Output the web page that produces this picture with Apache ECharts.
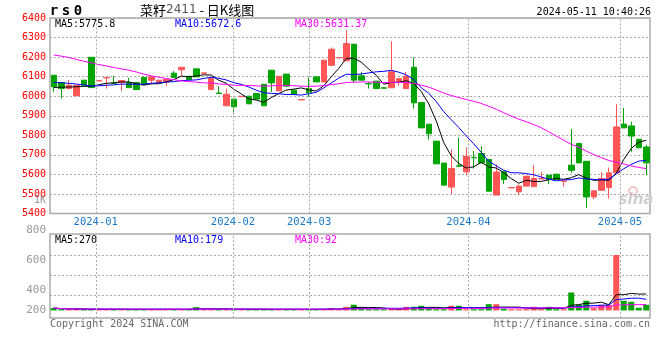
<!DOCTYPE html>
<html><head><meta charset="utf-8">
<script src="https://cdn.jsdelivr.net/npm/echarts@6/dist/echarts.min.js"></script>
<style>html,body{margin:0;padding:0;background:#fff}#c{width:660px;height:360px}</style>
</head><body><div id="c"></div>
<script>
// ---- data (rs0 / 菜籽2411 daily K) ----
const opens = [6107,6070,6039,6002,6082,6199,6078,6094,6067,6070,
  6070,6070,6097,6082,6070,6073,6118,6135,6102,6140,
  6117,6034,6016,5951,5985,5998,6000,6014,6061,6133,
  6027,6113,6031,5981,6039,6099,6073,6158,6196,6181,
  6266,6104,6065,6077,6043,6043,6077,6039,6148,5968,
  5857,5770,5658,5535,5644,5613,5687,5707,5676,5494,
  5613,5531,5511,5540,5537,5577,5596,5601,5565,5647,
  5758,5667,5485,5519,5533,5608,5857,5848,5780,5740];
const closes = [6048,6039,6056,6055,6056,6044,6080,6096,6065,6080,
  6044,6034,6060,6099,6082,6087,6096,6148,6085,6099,
  6119,6090,6014,6010,5946,6000,5961,5985,5951,6068,
  6102,6051,6009,5983,6017,6073,6184,6240,6198,6269,
  6082,6082,6063,6039,6041,6125,6090,6102,5966,5838,
  5808,5654,5545,5630,5642,5693,5685,5659,5514,5612,
  5574,5533,5540,5591,5579,5579,5574,5574,5567,5621,
  5659,5485,5516,5579,5608,5843,5838,5796,5736,5659];
const lows = [6022,5988,6039,6002,6056,6044,6078,6039,6065,6027,
  6044,6034,6060,6060,6070,6053,6096,6104,6085,6099,
  6117,6034,6014,5951,5908,5998,5961,5985,5951,6022,
  6027,6051,6009,5981,5997,6073,6073,6158,6196,6181,
  6070,6082,6039,6039,6041,6043,6053,6039,5937,5838,
  5779,5654,5545,5499,5642,5596,5630,5659,5514,5494,
  5550,5531,5494,5540,5537,5577,5550,5574,5537,5608,
  5659,5429,5473,5519,5477,5608,5838,5716,5736,5596];
const highs = [6107,6073,6082,6055,6082,6199,6080,6096,6104,6080,
  6094,6070,6097,6099,6082,6087,6128,6148,6102,6140,
  6119,6090,6051,6039,5985,6000,6000,6014,6061,6133,
  6102,6113,6031,5983,6096,6099,6184,6249,6198,6337,
  6266,6124,6073,6077,6043,6281,6090,6124,6198,5968,
  5857,5770,5658,5729,5789,5738,5719,5744,5676,5651,
  5613,5533,5548,5591,5647,5613,5596,5601,5567,5831,
  5758,5667,5516,5613,5635,5959,5940,5869,5780,5750];
const volumes = [40,20,20,20,20,20,20,20,20,20,
  20,20,20,20,20,20,20,20,20,55,
  20,20,20,20,20,20,20,20,20,20,
  20,20,20,20,20,20,20,38,20,60,
  94,45,20,20,20,20,20,60,60,77,
  38,20,20,77,77,20,20,20,104,104,
  28,20,20,20,60,20,60,20,20,297,
  94,160,38,94,94,918,160,143,44,94];
// moving-average values before enough history exists
const ma5Head = [6045,6046,6047,6048];
const ma10Head = [6070,6069,6066,6062,6058,6052,6053,6056,6058];
const ma30Head = [6211,6205,6198,6188,6179,6170,6162,6155,6147,6140,
  6133,6124,6113,6104,6097,6090,6085,6078,6075,6072,
  6068,6068,6063,6060,6056,6055,6055,6053,6051];
const monthPos = [5.6, 23.9, 34.05, 55.3, 75.5];
const monthLabels = ['2024-01','2024-02','2024-03','2024-04','2024-05'];
const priceMin = 5400, priceMax = 6400, priceStep = 100;
// volume-panel label slots (5px each, bottom to top)
const volTickLabels = ['200','','','','400','','','','','','600','','','','','','800'];
const volGridLines = [0, 1, 2];
const legendMain = ['MA5:5775.8','MA10:5672.6','MA30:5631.37'];
const legendVol = ['MA5:270','MA10:179','MA30:92'];
const legendColors = ['#000000','#0000ff','#ff00ff'];
const titleCode = ['r','s','0'];
const titleName = ['菜籽','2411',' - 日K线图'];
const timeStamp = '2024-05-11 10:40:26';
const footerLeft = 'Copyright 2024 SINA.COM';
const footerRight = 'http://finance.sina.com.cn';

// ---- build ----
const N = closes.length;
const cats = closes.map((_, i) => String(i));
const UP = '#ff5555', DOWN = '#00a400';
const MONO = 'DejaVu Sans Mono';
const GRID_C = '#aaaaaa';

function ma(arr, n, head) {
  return arr.map((_, i) => {
    if (i < n - 1) return head ? head[i] : null;
    let s = 0; for (let k = i - n + 1; k <= i; k++) s += arr[k];
    return +(s / n).toFixed(2);
  });
}
function maPartial(arr, n) {
  return arr.map((_, i) => {
    const a = Math.max(0, i - n + 1); let s = 0;
    for (let k = a; k <= i; k++) s += arr[k];
    return s / (i - a + 1);
  });
}
const ma5 = ma(closes, 5, ma5Head), ma10 = ma(closes, 10, ma10Head), ma30 = ma(closes, 30, ma30Head);
const vma5 = maPartial(volumes, 5), vma10 = maPartial(volumes, 10), vma30 = maPartial(volumes, 30);
const kData = opens.map((o, i) => [o, closes[i], lows[i], highs[i]]);
const vData = volumes.map((v, i) => ({ value: v, itemStyle: { color: closes[i] >= opens[i] ? UP : DOWN } }));

const dotted = () => ({ color: GRID_C, type: [2, 2], width: 1, opacity: 1 });
function maLine(data, color, xi, yi) {
  return { type: 'line', data, xAxisIndex: xi, yAxisIndex: yi, symbol: 'none', silent: true,
    lineStyle: { color, width: 1 }, itemStyle: { color }, z: 4 };
}
function monthMark(withLabel) {
  return { symbol: ['none', 'none'], silent: true, animation: false,
    lineStyle: dotted(),
    label: { show: withLabel, position: 'start', distance: 3, color: '#1a78c8', fontFamily: MONO, fontSize: 10.5 },
    data: monthPos.map((p, i) => ({ xAxis: p, label: { formatter: monthLabels[i] } })) };
}

const txt = (x, y, text, fill, font, align) => ({ type: 'text', x, y, silent: true,
  style: { text, fill, font, textAlign: align || 'left', textVerticalAlign: 'middle', verticalAlign: 'middle' } });

const graphic = [
  { type: 'text', x: 48, y: 11, silent: true, style: {
      text: titleCode.map(c => '{a|' + c + '}').join(''), verticalAlign: 'middle', textVerticalAlign: 'middle',
      rich: { a: { width: 12, align: 'center', fontFamily: MONO, fontWeight: 'bold', fontSize: 14, fill: '#000', color: '#000' } } } },
  { type: 'text', x: 140, y: 10, silent: true, style: {
      text: '{a|' + titleName[0] + '}{b|' + titleName[1] + '}{a|' + titleName[2] + '}', verticalAlign: 'middle', textVerticalAlign: 'middle',
      rich: { a: { fontFamily: 'Noto Sans CJK SC', fontSize: 13, fill: '#000', color: '#000' },
              b: { fontFamily: 'DejaVu Sans', fontSize: 12, fill: '#555', color: '#555' } } } },
  txt(651, 12, timeStamp, '#000', '10px "' + MONO + '"', 'right'),
  txt(46, 200, '1K', '#999', '10px "' + MONO + '"', 'right'),
  txt(50, 324, footerLeft, '#666', '10px "' + MONO + '"', 'left'),
  txt(650, 324, footerRight, '#666', '10px "' + MONO + '"', 'right'),
  txt(636, 200, 'sina', '#cfcfcf', 'italic bold 15px "DejaVu Sans"', 'center'),
  { type: 'circle', shape: { cx: 633, cy: 191, r: 4 }, silent: true, style: { fill: 'none', stroke: '#f2c8c8', lineWidth: 2 } }
];
legendMain.forEach((t, i) => graphic.push(txt(55 + i * 120, 24, t, legendColors[i], '10px "' + MONO + '"')));
legendVol.forEach((t, i) => graphic.push(txt(55 + i * 120, 240, t, legendColors[i], '10px "' + MONO + '"')));

const option = {
  animation: false,
  backgroundColor: '#ffffff',
  grid: [
    { left: 50, top: 18, width: 600, height: 195.5, show: true, borderColor: GRID_C, borderWidth: 1.5 },
    { left: 50, top: 234, width: 600, height: 84, show: true, borderColor: GRID_C, borderWidth: 1.5 },
    { left: 50, top: 230, width: 600, height: 80, show: false },
    { left: 50, top: 255, width: 600, height: 40, show: false }
  ],
  xAxis: [
    { type: 'category', gridIndex: 0, data: cats, boundaryGap: true, show: false },
    { type: 'value', gridIndex: 0, min: -0.5, max: N - 0.5, show: false },
    { type: 'category', gridIndex: 1, data: cats, boundaryGap: true, show: false },
    { type: 'value', gridIndex: 1, min: -0.5, max: N - 0.5, show: false },
    { type: 'value', gridIndex: 2, min: 0, max: 1, show: false },
    { type: 'value', gridIndex: 3, min: 0, max: 1, show: false }
  ],
  yAxis: [
    { type: 'value', gridIndex: 0, min: priceMin, max: priceMax, interval: priceStep,
      axisLine: { show: false }, axisTick: { show: false },
      axisLabel: { color: '#ff0000', fontFamily: MONO, fontSize: 10, margin: 4, padding: [0, 0, 3, 0],
        formatter: (v) => String(v) },
      splitLine: { show: true, lineStyle: dotted() } },
    { type: 'value', gridIndex: 1, min: -125, max: 1266, show: false },
    { type: 'value', gridIndex: 2, min: 0, max: volTickLabels.length - 1, interval: 1,
      axisLine: { show: false }, axisTick: { show: false },
      axisLabel: { color: '#999999', fontFamily: MONO, fontSize: 11, margin: 4,
        formatter: (v) => volTickLabels[Math.round(v)] || '' },
      splitLine: { show: false } },
    { type: 'value', gridIndex: 3, min: volGridLines[0], max: volGridLines[volGridLines.length - 1], interval: 1,
      axisLine: { show: false }, axisTick: { show: false }, axisLabel: { show: false },
      splitLine: { show: true, lineStyle: dotted() } }
  ],
  series: [
    { type: 'candlestick', xAxisIndex: 0, yAxisIndex: 0, data: kData, barWidth: 6, silent: true, z: 3,
      itemStyle: { color: UP, color0: DOWN, borderColor: UP, borderColor0: DOWN, borderWidth: 1 } },
    maLine(ma5, '#000000', 0, 0),
    maLine(ma10, '#0000ff', 0, 0),
    maLine(ma30, '#ff00ff', 0, 0),
    { type: 'bar', xAxisIndex: 2, yAxisIndex: 1, data: vData, barWidth: 6, silent: true, z: 3 },
    maLine(vma5, '#000000', 2, 1),
    maLine(vma10, '#0000ff', 2, 1),
    maLine(vma30, '#ff00ff', 2, 1),
    { type: 'line', xAxisIndex: 1, yAxisIndex: 0, data: [], silent: true, markLine: monthMark(true) },
    { type: 'line', xAxisIndex: 3, yAxisIndex: 1, data: [], silent: true, markLine: monthMark(false) },
    { type: 'line', xAxisIndex: 5, yAxisIndex: 3, data: [], silent: true }
  ],
  graphic
};
echarts.init(document.getElementById('c'), null, { renderer: 'canvas' }).setOption(option);
</script>
</body></html>
